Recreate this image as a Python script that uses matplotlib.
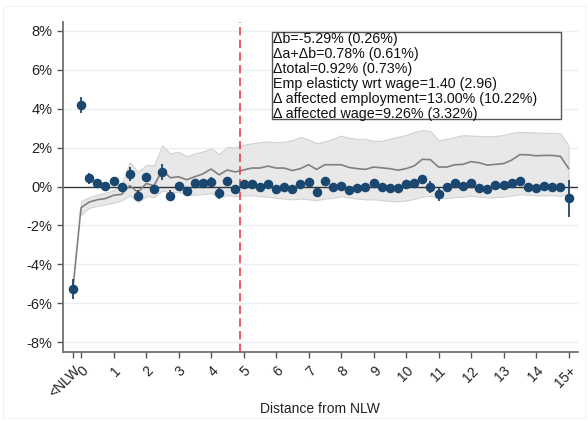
import numpy as np
import matplotlib
matplotlib.use("Agg")
import matplotlib.pyplot as plt
from matplotlib.patches import Rectangle

plt.rcParams['font.family'] = ['Liberation Sans', 'DejaVu Sans']

# ---------------- data ----------------
# bins: "<NLW" then 0, 0.25, ..., 15 (15 = "15+")
bin_positions = [-0.25] + [i * 0.25 for i in range(61)]

point_values = [
    -5.29, 4.20,
    0.42, 0.16, 0.03, 0.28,
    0.00, 0.64, -0.47, 0.47,
    -0.13, 0.76, -0.47, 0.03,
    -0.22, 0.16, 0.16, 0.25,
    -0.35, 0.28, -0.13, 0.13,
    0.13, 0.00, 0.13, -0.13,
    0.00, -0.15, 0.13, 0.25,
    -0.27, 0.28, 0.00, 0.03,
    -0.18, -0.06, -0.04, 0.16,
    -0.04, -0.06, -0.09, 0.13,
    0.16, 0.38, -0.04, -0.41,
    0.00, 0.16, 0.03, 0.16,
    -0.06, -0.15, 0.06, 0.06,
    0.18, 0.28, 0.00, -0.09,
    0.05, 0.00, -0.04, -0.61,
]

point_ci_half = [
    0.52, 0.42,
    0.30, 0.25, 0.18, 0.20,
    0.20, 0.35, 0.30, 0.22,
    0.20, 0.40, 0.30, 0.18,
    0.20, 0.18, 0.18, 0.25,
    0.30, 0.18, 0.18, 0.18,
    0.18, 0.18, 0.18, 0.18,
    0.18, 0.18, 0.18, 0.18,
    0.20, 0.18, 0.18, 0.18,
    0.18, 0.18, 0.18, 0.18,
    0.18, 0.18, 0.18, 0.18,
    0.18, 0.20, 0.30, 0.35,
    0.18, 0.18, 0.18, 0.18,
    0.18, 0.18, 0.18, 0.18,
    0.18, 0.20, 0.18, 0.18,
    0.18, 0.18, 0.18, 0.95,
]

cumulative_values = [
    -5.29, -1.09,
    -0.80, -0.68, -0.62, -0.45,
    -0.40, 0.05, -0.30, 0.15,
    0.05, 0.85, 0.45, 0.50,
    0.35, 0.50, 0.65, 0.90,
    0.60, 0.85, 0.75, 0.85,
    0.95, 0.95, 1.05, 0.95,
    0.95, 0.82, 0.92, 1.12,
    0.88, 1.12, 1.12, 1.12,
    0.98, 0.92, 0.88, 1.00,
    0.96, 0.92, 0.84, 0.92,
    1.06, 1.40, 1.38, 1.00,
    1.00, 1.12, 1.14, 1.28,
    1.22, 1.10, 1.14, 1.18,
    1.36, 1.64, 1.63, 1.58,
    1.60, 1.60, 1.55, 0.93,
]

# confidence band of the cumulative line, bins 0 .. 15
band_upper = [
    -0.75,
    -0.55, -0.42, -0.32, -0.20,
    0.10, 1.25, 0.75, 1.10,
    1.10, 2.10, 1.70, 1.78,
    1.55, 1.70, 1.80, 1.96,
    1.67, 2.04, 2.00, 2.15,
    2.22, 2.28, 2.32, 2.28,
    2.30, 2.38, 2.55, 2.42,
    2.22, 2.32, 2.45, 2.62,
    2.50, 2.45, 2.45, 2.35,
    2.35, 2.45, 2.55, 2.65,
    2.80, 2.90, 2.85, 2.38,
    2.45, 2.55, 2.64, 2.62,
    2.60, 2.58, 2.60, 2.65,
    2.76, 2.80, 2.80, 2.78,
    2.76, 2.76, 2.73, 2.10,
]
band_lower = [
    -1.45,
    -1.10, -1.00, -0.92, -0.83,
    -0.72, -0.45, -0.80, -0.50,
    -0.55, -0.20, -0.32, -0.28,
    -0.42, -0.42, -0.40, -0.34,
    -0.55, -0.45, -0.50, -0.46,
    -0.45, -0.50, -0.52, -0.58,
    -0.62, -0.66, -0.62, -0.66,
    -0.70, -0.62, -0.58, -0.50,
    -0.56, -0.62, -0.66, -0.66,
    -0.70, -0.74, -0.76, -0.72,
    -0.64, -0.52, -0.48, -0.60,
    -0.60, -0.55, -0.52, -0.48,
    -0.52, -0.56, -0.54, -0.52,
    -0.46, -0.40, -0.42, -0.45,
    -0.45, -0.45, -0.48, -0.38,
]

x_tick_positions = [-0.25] + list(range(16))
x_tick_labels = ['<NLW'] + [str(i) for i in range(15)] + ['15+']
y_ticks = [-8, -6, -4, -2, 0, 2, 4, 6, 8]
y_tick_labels = [f"{v}%" for v in y_ticks]

threshold_x = 4.9

annotation_lines = [
    "\u0394b=-5.29% (0.26%)",
    "\u0394a+\u0394b=0.78% (0.61%)",
    "\u0394total=0.92% (0.73%)",
    "Emp elasticty wrt wage=1.40 (2.96)",
    "\u0394 affected employment=13.00% (10.22%)",
    "\u0394 affected wage=9.26% (3.32%)",
]
x_label = "Distance from NLW"

# ---------------- figure ----------------
W, H = 588, 421
fig = plt.figure(figsize=(W / 100, H / 100), dpi=100)
fig.patch.set_facecolor('white')
fig.patches.append(Rectangle((3 / W, 3 / H), (W - 6) / W, (H - 9) / H,
                             transform=fig.transFigure, fill=False,
                             edgecolor='#f3f3f3', lw=0.8, zorder=0))

ax_l, ax_r, ax_t, ax_b = 63, 578, 22, 352
ax = fig.add_axes([ax_l / W, 1 - ax_b / H, (ax_r - ax_l) / W, (ax_b - ax_t) / H])
ax.set_xlim(-0.554, 15.29)
ax.set_ylim(-8.51, 8.46)

navy = '#1a476f'

# grid
for yv in y_ticks:
    if yv != 0:
        ax.axhline(yv, color='#e9f0f2', lw=1.0, zorder=0)

# band
band_x = bin_positions[1:]
ax.fill_between(band_x, band_lower, band_upper, facecolor='#e8e8e8',
                edgecolor='#d2d2d2', lw=0.8, zorder=1)

# zero line
ax.axhline(0, color='#333333', lw=1.0, zorder=2)

# cumulative line
ax.plot(bin_positions, cumulative_values, color='#808080', lw=1.2, zorder=3)

# threshold
ax.axvline(threshold_x, color='#e8404a', lw=1.2, dashes=(5, 2.6), zorder=3)

# points with CI
ax.errorbar(bin_positions, point_values, yerr=point_ci_half, fmt='none',
            ecolor=navy, elinewidth=1.3, capsize=0, zorder=4)
ax.plot(bin_positions, point_values, 'o', color=navy, markersize=6.9,
        markeredgewidth=0, zorder=5)

# axes styling
for s in ['top', 'right']:
    ax.spines[s].set_visible(False)
for s in ['left', 'bottom']:
    ax.spines[s].set_color('#707070')
    ax.spines[s].set_linewidth(1.3)

ax.set_yticks(y_ticks)
ax.set_yticklabels(y_tick_labels, fontsize=10.5, color='#222222')
ax.set_xticks(x_tick_positions)
ax.set_xticklabels(x_tick_labels, fontsize=10, color='#222222',
                   rotation=45, ha='right', va='top', rotation_mode='anchor')
ax.tick_params(axis='both', direction='out', length=4.5, width=1.0,
               color='#555555')
ax.tick_params(axis='y', pad=3)
ax.tick_params(axis='x', pad=4)

fig.text(320 / W, 1 - 409 / H, x_label, ha='center', va='center',
         fontsize=10, color='#222222')

# annotation box
bx_l, bx_r, bx_t, bx_b = 272, 561, 32, 119
fig.patches.append(Rectangle((bx_l / W, 1 - bx_b / H), (bx_r - bx_l) / W,
                             (bx_b - bx_t) / H, transform=fig.transFigure,
                             facecolor='white', edgecolor='#555555', lw=1.0,
                             zorder=6))
line_y = [39.3, 54.3, 69.3, 84.3, 99.1, 114.0]
for txt, yy in zip(annotation_lines, line_y):
    fig.text(273 / W, 1 - yy / H, txt, ha='left', va='center',
             fontsize=10.3, color='#111111', zorder=7)

fig.savefig('out.png', dpi=100, facecolor='white')
